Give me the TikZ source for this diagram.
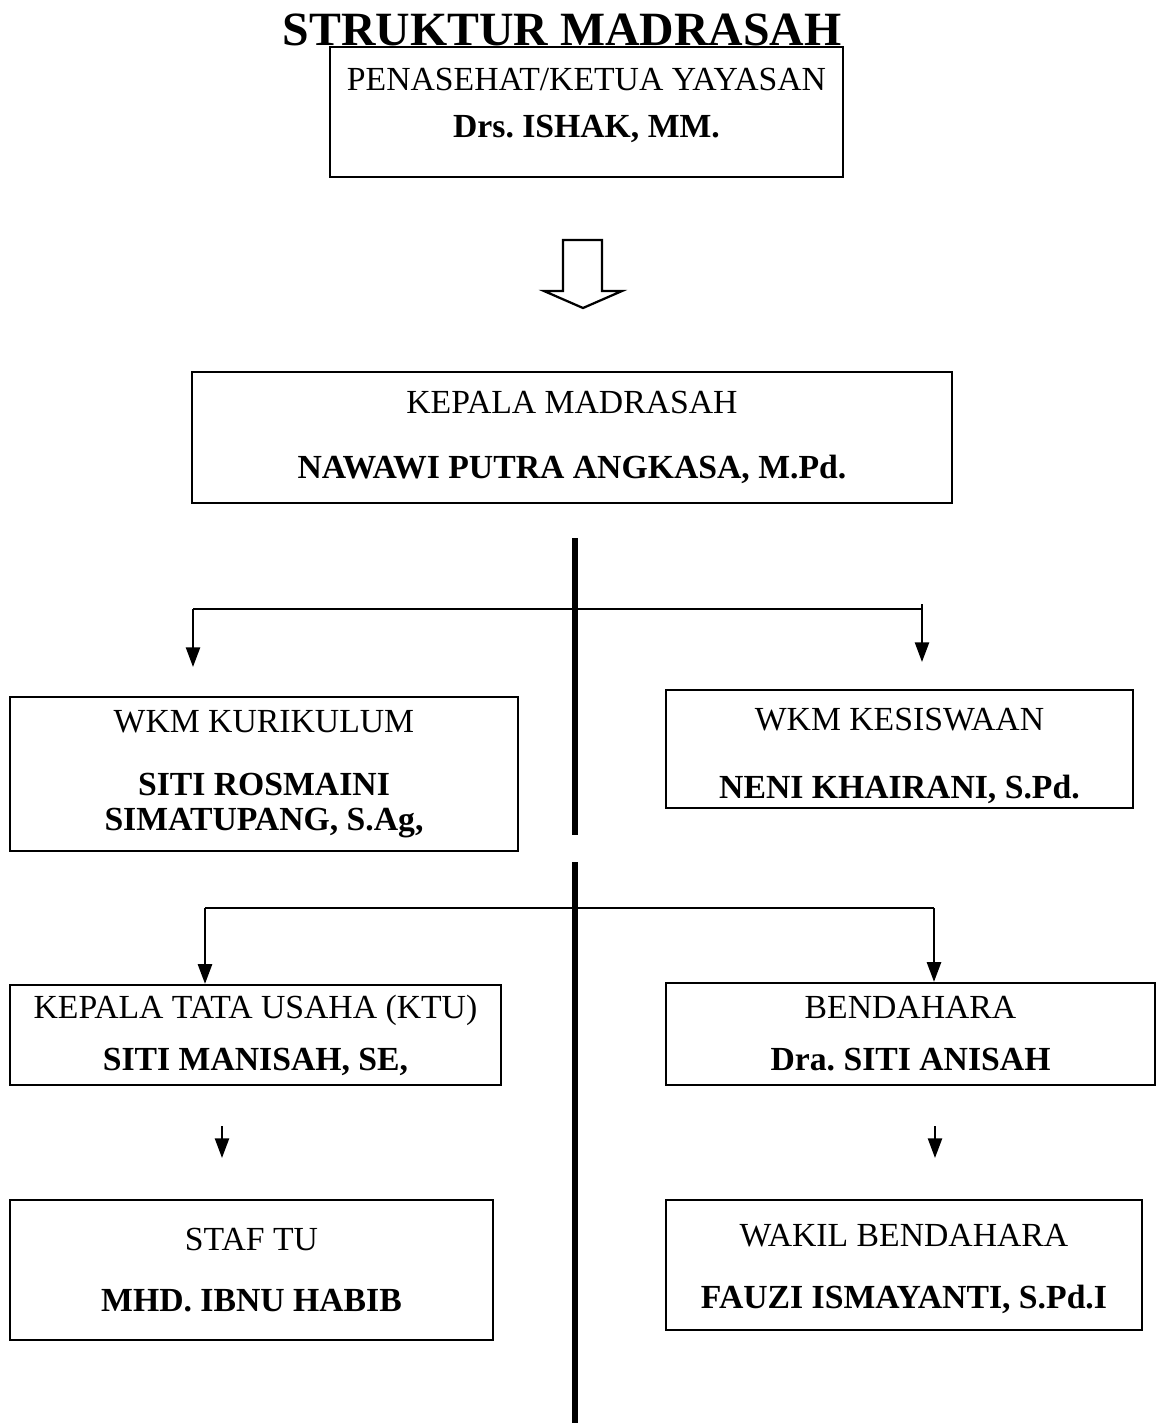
\documentclass[tikz,border=0pt]{standalone}
\usepackage{fontspec}
\setmainfont{Liberation Serif}
\usepackage{tikz}
\usetikzlibrary{arrows.meta}

\newcommand{\pxu}{0.356pt}

\begin{document}
\begin{tikzpicture}[x=0.356pt, y=-0.356pt,
    kotak/.style={draw, line width=0.8pt, align=center, inner sep=0pt, font=\fontsize{12}{14}\selectfont\frenchspacing},
    garis/.style={line width=0.8pt},
    panah/.style={line width=0.8pt, -{Triangle[length=7pt,width=5pt]}},
    tiang/.style={line width=2.3pt}]
            % page frame
            \useasboundingbox (0,0) rectangle (1157,1423);

            % title
            \node[anchor=base, font=\fontsize{17}{20}\selectfont\bfseries] (judul) at (562,45) {STRUKTUR MADRASAH};

            % boxes
            \node[kotak, minimum width=513*\pxu, minimum height=130*\pxu] (penasehat) at (586.5,112)
              {PENASEHAT/KETUA YAYASAN\\[2.7pt]\textbf{Drs. ISHAK, MM.}\rule[-6.5pt]{0pt}{1pt}};
            \node[kotak, minimum width=760*\pxu, minimum height=131*\pxu] (kepala) at (572,437.5)
              {KEPALA MADRASAH\\[9pt]\textbf{NAWAWI PUTRA ANGKASA, M.Pd.}};
            \node[kotak, minimum width=508*\pxu, minimum height=154*\pxu] (kurikulum) at (264,774)
              {WKM KURIKULUM\\[8.4pt]\textbf{SITI ROSMAINI}\\[-1.5pt]\textbf{SIMATUPANG, S.Ag,}};
            \node[kotak, minimum width=467*\pxu, minimum height=118*\pxu] (kesiswaan) at (899.5,749)
              {\rule{0pt}{13pt}WKM KESISWAAN\\[10pt]\textbf{NENI KHAIRANI, S.Pd.}};
            \node[kotak, minimum width=491*\pxu, minimum height=100*\pxu] (ktu) at (255.5,1035)
              {KEPALA TATA USAHA (KTU)\\[4.5pt]\textbf{SITI MANISAH, SE,}};
            \node[kotak, minimum width=489*\pxu, minimum height=102*\pxu] (bendahara) at (910.5,1034)
              {BENDAHARA\\[4.5pt]\textbf{Dra. SITI ANISAH}};
            \node[kotak, minimum width=483*\pxu, minimum height=140*\pxu] (staf) at (251.5,1270)
              {STAF TU\\[8pt]\textbf{MHD. IBNU HABIB}};
            \node[kotak, minimum width=476*\pxu, minimum height=130*\pxu] (wakil) at (904,1265)
              {\rule{0pt}{10.7pt}WAKIL BENDAHARA\\[8pt]\textbf{FAUZI ISMAYANTI, S.Pd.I}};

            % hollow arrow
            \draw[garis, line join=miter] (563,240) -- (602,240) -- (602,291) -- (622,291) -- (583,308)
              -- (544,291) -- (563,291) -- cycle;

            % connector points
            \coordinate (t1a) at (575,538);
            \coordinate (t1b) at (575,835);
            \coordinate (c1l) at (193,609);
            \coordinate (c1r) at (922,609);
            \coordinate (c1rt) at (922,604);
            \coordinate (a1l) at (193,667);
            \coordinate (a1r) at (922,662);
            \coordinate (t2a) at (575,862);
            \coordinate (t2b) at (575,1423);
            \coordinate (c2l) at (205,908);
            \coordinate (c2r) at (934,908);
            \coordinate (p3l) at (222,1126);
            \coordinate (q3l) at (222,1158);
            \coordinate (p3r) at (935,1126);
            \coordinate (q3r) at (935,1158);

            % thick lines
            \draw[tiang] (t1a) -- (t1b);
            \draw[tiang] (t2a) -- (t2b);

            % first branch
            \draw[garis] (c1l) -- (c1r);
            \draw[panah] (c1l) -- (a1l);
            \draw[panah] (c1rt) -- (a1r);

            % second branch
            \draw[garis] (c2l) -- (c2r);
            \draw[panah] (c2l) -- (c2l |- ktu.north);
            \draw[panah] (c2r) -- (c2r |- bendahara.north);

            % third level
            \draw[panah] (p3l) -- (q3l);
            \draw[panah] (p3r) -- (q3r);
        \end{tikzpicture}
\end{document}
